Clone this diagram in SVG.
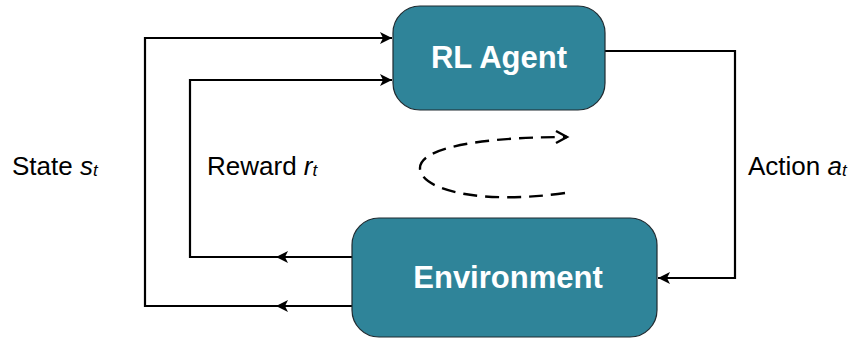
<svg xmlns="http://www.w3.org/2000/svg" width="855" height="341" viewBox="0 0 855 341">
  <defs>
    <marker id="arrow" markerUnits="userSpaceOnUse" markerWidth="14" markerHeight="12" refX="12" refY="6" orient="auto">
      <path d="M0,0 L12,6 L0,12 L3,6 Z" fill="#000"/>
    </marker>
    <marker id="open" markerUnits="userSpaceOnUse" markerWidth="16" markerHeight="16" refX="13" refY="8" orient="auto">
      <path d="M2,2 L13,8 L2,14" fill="none" stroke="#000" stroke-width="2.4"/>
    </marker>
  </defs>
  <style>
    .box { fill: #2f8499; stroke: #1f2a30; stroke-width: 1.2; }
    .title { font-family: "Liberation Sans", Arial, sans-serif; font-weight: bold; font-size: 31px; fill: #fff; text-anchor: middle; }
    .lbl { font-family: "Liberation Sans", Arial, sans-serif; font-size: 26px; fill: #000; }
    .var { font-style: italic; }
    .sub { font-style: italic; font-size: 17px; }
    .wire { fill: none; stroke: #000; stroke-width: 2.2; }
    .loop { fill: none; stroke: #000; stroke-width: 2.4; stroke-dasharray: 14 8; }
  </style>

  <g id="connectors">
    <!-- state: environment back to agent -->
    <path class="wire" d="M352,306 H276" marker-end="url(#arrow)"/>
    <path class="wire" d="M276,306 H145 V38 H392" marker-end="url(#arrow)"/>
    <!-- reward: environment back to agent -->
    <path class="wire" d="M352,257 H276" marker-end="url(#arrow)"/>
    <path class="wire" d="M276,257 H190 V80 H392" marker-end="url(#arrow)"/>
    <!-- action: agent to environment -->
    <path class="wire" d="M605,51 H735 V278 H658" marker-end="url(#arrow)"/>
    <!-- interaction loop -->
    <path class="loop" d="M565,193 C480,205 420,190 420,168 C420,148 480,137 567,137" marker-end="url(#open)"/>
  </g>

  <g id="agent">
    <rect class="box" x="393" y="6" width="212" height="104" rx="27" ry="27"/>
    <text class="title" x="499" y="68">RL Agent</text>
  </g>

  <g id="environment">
    <rect class="box" x="352" y="218" width="305" height="119" rx="27" ry="27"/>
    <text class="title" x="508" y="288">Environment</text>
  </g>

  <g id="labels">
    <text class="lbl" x="12" y="175">State <tspan class="var">s</tspan><tspan class="sub" dy="1">t</tspan></text>
    <text class="lbl" x="207" y="175">Reward <tspan class="var">r</tspan><tspan class="sub" dy="1">t</tspan></text>
    <text class="lbl" x="748" y="175">Action <tspan class="var">a</tspan><tspan class="sub" dy="1">t</tspan></text>
  </g>
</svg>
